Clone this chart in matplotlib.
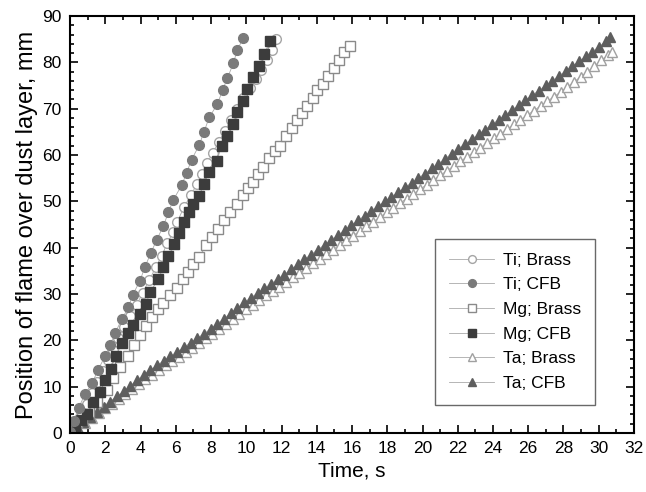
import matplotlib.pyplot as plt
from matplotlib.ticker import MultipleLocator

plt.rcParams['font.family'] = ['Liberation Sans', 'DejaVu Sans']

# Ti; Brass (open circles)
ti_brass_t = [0.0, 0.3, 0.66, 0.95, 1.25, 1.55, 1.85, 2.15, 2.45, 2.75, 3.05, 3.40, 3.78, 4.12,
              4.50, 4.88, 5.20, 5.52, 5.85, 6.09, 6.47, 6.87, 7.19, 7.47, 7.79, 8.09, 8.44, 8.79,
              9.14, 9.49, 9.84, 10.19, 10.54, 10.86, 11.16, 11.44, 11.69]
ti_brass_y = [0.0, 1.8, 4.0, 6.3, 8.7, 11.0, 13.4, 15.7, 18.0, 20.4, 22.8, 25.2, 27.6, 30.3,
              33.0, 35.9, 38.2, 41.0, 43.3, 45.6, 48.8, 51.4, 53.7, 56.0, 58.3, 60.4, 62.8, 65.2,
              67.6, 70.0, 72.2, 74.4, 76.5, 78.4, 80.5, 82.7, 85.0]

# Ti; CFB (filled circles)
ti_cfb_t = [0.0, 0.2, 0.5, 0.85, 1.27, 1.6, 1.99, 2.27, 2.55, 2.93, 3.31, 3.56, 3.97, 4.26,
            4.58, 4.92, 5.30, 5.58, 5.86, 6.34, 6.62, 6.90, 7.34, 7.60, 7.90, 8.36, 8.66, 8.93,
            9.27, 9.49, 9.83]
ti_cfb_y = [0.3, 2.5, 5.5, 8.4, 10.9, 13.7, 16.6, 19.0, 21.5, 24.5, 27.1, 29.8, 32.9, 35.9,
            38.8, 41.7, 44.7, 47.6, 50.3, 53.5, 56.2, 59.0, 62.2, 65.0, 68.1, 71.0, 74.0, 76.6,
            79.8, 82.7, 85.2]

# Mg; Brass (open squares)
mg_brass_t = [0.0, 0.38, 0.70, 1.10, 1.51, 2.08, 2.46, 2.84, 3.31, 3.63, 3.97, 4.31, 4.64, 5.01,
              5.30, 5.67, 6.05, 6.39, 6.71, 7.00, 7.34, 7.72, 8.05, 8.40, 8.75, 9.10, 9.45, 9.83,
              10.12, 10.40, 10.68, 10.97, 11.31, 11.62, 11.91, 12.26, 12.58, 12.86, 13.15, 13.47,
              13.77, 14.03, 14.37, 14.66, 14.98, 15.28, 15.55, 15.89]
mg_brass_y = [0.0, 2.4, 3.2, 4.5, 6.8, 9.3, 11.8, 14.3, 16.6, 19.0, 21.2, 23.1, 25.1, 26.7,
              28.0, 29.8, 31.2, 33.2, 34.8, 36.5, 38.0, 40.6, 42.3, 44.1, 45.9, 47.7, 49.5, 51.4,
              52.8, 54.2, 56.0, 57.5, 59.3, 60.8, 61.9, 64.1, 65.8, 67.5, 69.0, 70.6,
              72.2, 74.0, 75.4, 77.0, 78.7, 80.5, 82.3, 83.6]

# Mg; CFB (filled squares)
mg_cfb_t = [0.0, 0.3, 0.6, 0.95, 1.29, 1.70, 1.99, 2.31, 2.59, 2.97, 3.31, 3.59, 3.97, 4.31,
            4.55, 5.01, 5.30, 5.58, 5.92, 6.20, 6.45, 6.75, 6.95, 7.32, 7.60, 7.90, 8.32, 8.60,
            8.93, 9.23, 9.49, 9.83, 10.06, 10.40, 10.72, 11.03, 11.35]
mg_cfb_y = [0.0, 1.5, 2.8, 4.2, 6.6, 8.9, 11.4, 13.8, 16.6, 19.5, 21.5, 23.3, 25.6, 27.8,
            30.5, 33.2, 35.8, 38.2, 40.7, 43.2, 45.5, 47.6, 49.4, 51.2, 53.7, 56.4, 58.6, 62.0,
            64.2, 66.7, 69.2, 71.7, 74.3, 76.8, 79.3, 81.9, 84.5]

# Ta; Brass (open triangles)
ta_brass_t = [0.10, 0.48, 0.86, 1.24, 1.62, 2.00, 2.38, 2.76, 3.14, 3.52, 3.90, 4.28, 4.66, 5.04,
              5.42, 5.80, 6.18, 6.56, 6.94, 7.32, 7.70, 8.08, 8.46, 8.84, 9.22, 9.60, 9.98, 10.36,
              10.74, 11.12, 11.50, 11.88, 12.26, 12.64, 13.02, 13.40, 13.78, 14.16, 14.54, 14.92,
              15.30, 15.68, 16.06, 16.44, 16.82, 17.20, 17.58, 17.96, 18.34, 18.72, 19.10, 19.48,
              19.86, 20.24, 20.62, 21.00, 21.38, 21.76, 22.14, 22.52, 22.90, 23.28, 23.66, 24.04,
              24.42, 24.80, 25.18, 25.56, 25.94, 26.32, 26.70, 27.08, 27.46, 27.84, 28.22, 28.60,
              28.98, 29.36, 29.74, 30.12, 30.50, 30.73]
ta_brass_y = [0.0, 1.1, 2.2, 3.2, 4.3, 5.3, 6.3, 7.4, 8.4, 9.5, 10.6, 11.6, 12.6, 13.6,
              14.6, 15.6, 16.5, 17.4, 18.4, 19.4, 20.4, 21.4, 22.4, 23.5, 24.5, 25.6, 26.7, 27.7,
              28.7, 29.7, 30.7, 31.6, 32.6, 33.6, 34.6, 35.6, 36.6, 37.6, 38.6, 39.6,
              40.6, 41.6, 42.6, 43.6, 44.6, 45.6, 46.6, 47.6, 48.6, 49.6, 50.6, 51.6,
              52.6, 53.6, 54.6, 55.6, 56.6, 57.6, 58.6, 59.6, 60.6, 61.6, 62.6, 63.6,
              64.6, 65.6, 66.6, 67.6, 68.6, 69.6, 70.6, 71.6, 72.6, 73.6, 74.7, 75.8,
              76.9, 78.0, 79.1, 80.4, 81.5, 82.3]

# Ta; CFB (filled triangles)
ta_cfb_t = [0.00, 0.38, 0.76, 1.14, 1.52, 1.90, 2.28, 2.66, 3.04, 3.42, 3.80, 4.18, 4.56, 4.94,
            5.32, 5.70, 6.08, 6.46, 6.84, 7.22, 7.60, 7.98, 8.36, 8.74, 9.12, 9.50, 9.88, 10.26,
            10.64, 11.02, 11.40, 11.78, 12.16, 12.54, 12.92, 13.30, 13.68, 14.06, 14.44, 14.82,
            15.20, 15.58, 15.96, 16.34, 16.72, 17.10, 17.48, 17.86, 18.24, 18.62, 19.00, 19.38,
            19.76, 20.14, 20.52, 20.90, 21.28, 21.66, 22.04, 22.42, 22.80, 23.18, 23.56, 23.94,
            24.32, 24.70, 25.08, 25.46, 25.84, 26.22, 26.60, 26.98, 27.36, 27.74, 28.12, 28.50,
            28.88, 29.26, 29.64, 30.02, 30.40, 30.64]
ta_cfb_y = [0.3, 1.3, 2.4, 3.5, 4.6, 5.7, 6.8, 7.9, 9.0, 10.2, 11.4, 12.6, 13.6, 14.6,
            15.6, 16.6, 17.5, 18.5, 19.5, 20.5, 21.4, 22.5, 23.6, 24.7, 25.9, 27.0, 28.2, 29.2,
            30.2, 31.2, 32.2, 33.2, 34.2, 35.3, 36.4, 37.5, 38.5, 39.6, 40.6, 41.7,
            42.7, 43.8, 44.8, 45.9, 46.9, 48.0, 49.0, 50.0, 51.0, 52.0, 53.0, 54.0,
            55.0, 56.0, 57.1, 58.1, 59.2, 60.3, 61.4, 62.4, 63.4, 64.5, 65.5, 66.6,
            67.6, 68.7, 69.7, 70.8, 71.8, 72.9, 73.9, 75.0, 76.0, 77.1, 78.1, 79.2,
            80.2, 81.3, 82.3, 83.4, 84.5, 85.5]

fig = plt.figure(figsize=(6.46, 4.92), dpi=100)
ax = fig.add_axes([0.1084, 0.1199, 0.873, 0.8476])

line_kw = dict(linestyle='-', linewidth=0.6, color='#aaaaaa', markersize=7)

ax.plot(ta_brass_t, ta_brass_y, marker='^', markerfacecolor='white', markeredgecolor='#a0a0a0',
        markeredgewidth=1.0, label='Ta; Brass', **line_kw)
ax.plot(ta_cfb_t, ta_cfb_y, marker='^', markerfacecolor='#5e5e5e', markeredgecolor='#5e5e5e',
        label='Ta; CFB', **line_kw)
ax.plot(mg_brass_t, mg_brass_y, marker='s', markerfacecolor='white', markeredgecolor='#8a8a8a',
        markeredgewidth=1.0, label='Mg; Brass', **line_kw)
ax.plot(ti_brass_t, ti_brass_y, marker='o', markerfacecolor='white', markeredgecolor='#a5a5a5',
        markeredgewidth=1.0, label='Ti; Brass', **line_kw)
ax.plot(mg_cfb_t, mg_cfb_y, marker='s', markerfacecolor='#3c3c3c', markeredgecolor='#3c3c3c',
        label='Mg; CFB', **line_kw)
ax.plot(ti_cfb_t, ti_cfb_y, marker='o', markerfacecolor='#7a7a7a', markeredgecolor='#7a7a7a',
        label='Ti; CFB', **line_kw)

ax.set_xlim(0, 32)
ax.set_ylim(0, 90)
ax.xaxis.set_major_locator(MultipleLocator(2))
ax.xaxis.set_minor_locator(MultipleLocator(1))
ax.yaxis.set_major_locator(MultipleLocator(10))
ax.yaxis.set_minor_locator(MultipleLocator(2))
ax.tick_params(which='both', direction='in', top=True, right=True, labelsize=12.5, width=1.2)
ax.tick_params(which='major', length=6, pad=6)
ax.tick_params(which='minor', length=3)
for s in ax.spines.values():
    s.set_linewidth(1.5)

ax.set_xlabel('Time, s', fontsize=15, labelpad=4)
ax.set_ylabel('Position of flame over dust layer, mm', fontsize=17, labelpad=3)

# legend order as in the picture
handles, labels = ax.get_legend_handles_labels()
order = ['Ti; Brass', 'Ti; CFB', 'Mg; Brass', 'Mg; CFB', 'Ta; Brass', 'Ta; CFB']
hmap = dict(zip(labels, handles))
leg = ax.legend([hmap[k] for k in order], order, loc='lower right',
                bbox_to_anchor=(0.931, 0.067), borderaxespad=0, fontsize=12.5,
                frameon=True, fancybox=False, edgecolor='#444444', handlelength=2.6,
                handletextpad=0.5, labelspacing=0.55, borderpad=0.8, markerscale=0.8)
leg.get_frame().set_linewidth(1.0)

fig.savefig('out.png', dpi=100)
